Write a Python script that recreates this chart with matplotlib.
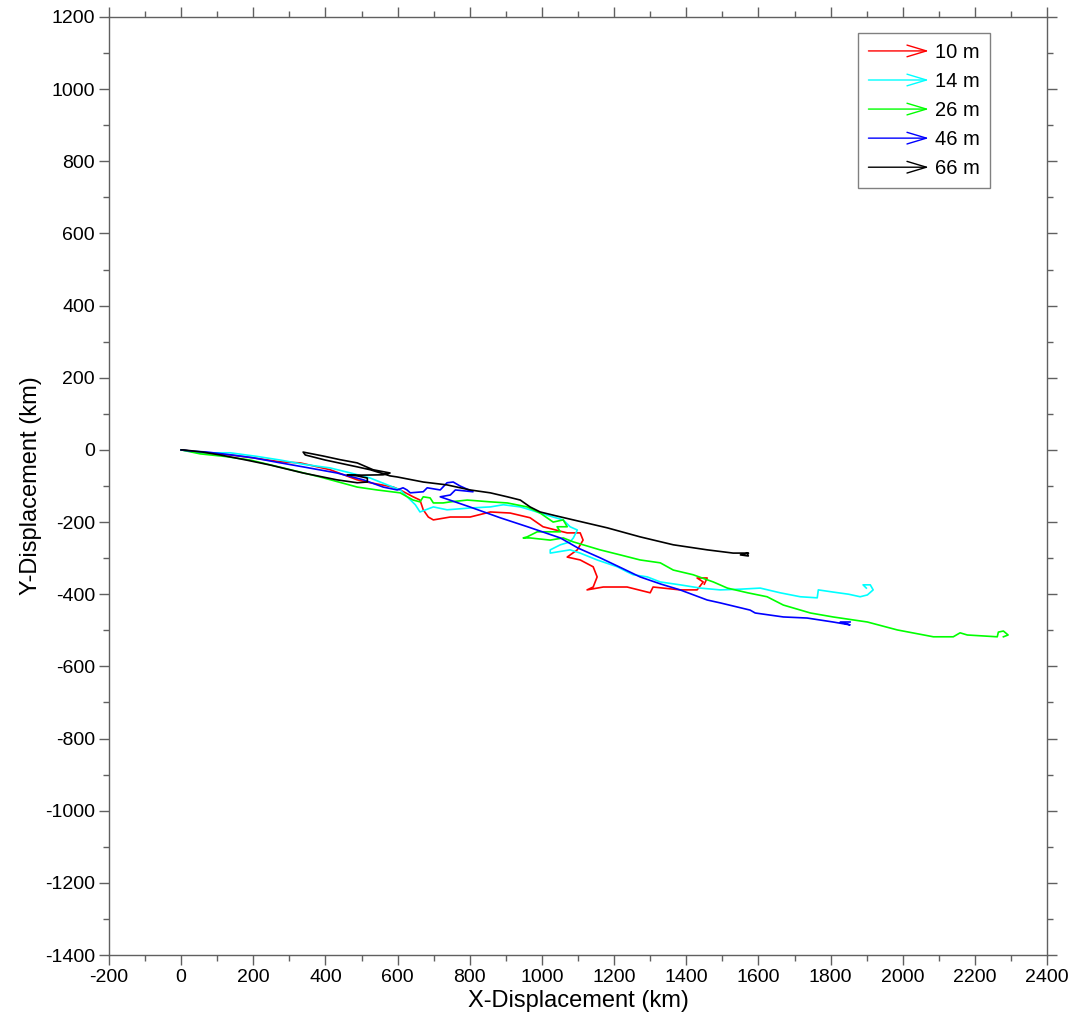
"""
Progressive vector diagram of current-meter records at five depths.
Writes out.png.
"""

import matplotlib.pyplot as plt
from matplotlib.legend_handler import HandlerBase
from matplotlib.lines import Line2D
from matplotlib.patches import FancyArrowPatch
from matplotlib.ticker import MultipleLocator

plt.rcParams["font.family"] = ["Liberation Sans", "DejaVu Sans"]
plt.rcParams["axes.unicode_minus"] = False

# --- Cumulative displacement tracks (km) -----------------------------------
DEPTHS = ["10 m", "14 m", "26 m", "46 m", "66 m"]
COLORS = ["#ff0000", "#00ffff", "#00ff00", "#0000ff", "#000000"]

X_10 = [0, 60, 136, 200, 274, 330, 413, 488, 524, 588, 607, 643, 662, 671,
        685, 699, 746, 801, 857, 912, 967, 1003, 1050, 1070, 1106, 1114,
        1098, 1070, 1106, 1142, 1153, 1142, 1125, 1170, 1236, 1300, 1308,
        1383, 1430, 1447, 1430, 1458, 1450]
Y_10 = [0, -8, -14, -22, -33, -36, -55, -83, -91, -103, -111, -130, -139,
        -166, -186, -194, -186, -186, -172, -175, -188, -213, -225, -230,
        -230, -250, -277, -297, -305, -324, -352, -380, -388, -380, -380,
        -396, -380, -388, -388, -366, -355, -355, -372]

X_14 = [0, 53, 136, 210, 274, 340, 413, 470, 524, 607, 649, 662, 699, 737,
        801, 857, 893, 940, 967, 995, 1031, 1059, 1078, 1098, 1087, 1078,
        1051, 1023, 1023, 1078, 1106, 1153, 1209, 1236, 1253, 1292, 1328,
        1383, 1439, 1494, 1550, 1605, 1660, 1716, 1763, 1766, 1807, 1850,
        1882, 1902, 1918, 1910, 1890, 1899]
Y_14 = [0, -8, -8, -18, -28, -40, -50, -64, -78, -111, -152, -172, -158,
        -166, -161, -158, -152, -158, -166, -175, -186, -194, -213, -222,
        -244, -255, -263, -277, -286, -277, -286, -305, -324, -338, -346,
        -352, -366, -374, -383, -388, -386, -383, -396, -407, -410, -388,
        -394, -400, -407, -402, -388, -374, -374, -383]

X_26 = [0, 53, 120, 191, 283, 385, 488, 543, 607, 643, 662, 671, 690, 699,
        726, 746, 793, 857, 904, 959, 995, 1031, 1059, 1070, 1042, 1051,
        1015, 987, 959, 948, 967, 1023, 1059, 1087, 1114, 1161, 1217, 1272,
        1328, 1364, 1419, 1458, 1475, 1514, 1570, 1624, 1669, 1744, 1807,
        1902, 1985, 2085, 2140, 2159, 2179, 2262, 2265, 2279, 2292, 2279]
Y_26 = [0, -11, -18, -28, -50, -75, -103, -111, -119, -139, -144, -130,
        -133, -147, -147, -144, -139, -144, -147, -158, -175, -200, -194,
        -213, -213, -227, -227, -227, -241, -244, -244, -250, -244, -255,
        -263, -277, -291, -305, -313, -333, -346, -360, -366, -383, -396,
        -407, -430, -452, -463, -477, -499, -518, -518, -507, -513, -518,
        -505, -502, -513, -518]

X_46 = [0, 25, 72, 140, 200, 270, 338, 432, 505, 560, 599, 615, 626, 635,
        671, 682, 718, 737, 754, 773, 809, 760, 746, 718, 800, 884, 960,
        1051, 1100, 1161, 1220, 1272, 1330, 1383, 1458, 1494, 1577, 1591,
        1669, 1735, 1807, 1854, 1827, 1854]
Y_46 = [0, -3, -6, -14, -22, -35, -47, -64, -83, -103, -111, -105, -111,
        -119, -116, -105, -111, -91, -89, -100, -116, -111, -125, -130,
        -158, -188, -213, -244, -272, -299, -327, -352, -372, -388, -416,
        -424, -444, -452, -463, -466, -477, -485, -477, -477]

X_66 = [0, 6, 60, 108, 180, 247, 338, 432, 488, 516, 516, 488, 460, 500,
        560, 579, 532, 488, 440, 394, 338, 344, 399, 488, 524, 579, 599,
        671, 737, 801, 857, 904, 940, 967, 995, 1040, 1087, 1181, 1272,
        1364, 1458, 1530, 1569, 1572, 1550, 1572]
Y_66 = [0, 0, -6, -14, -28, -42, -64, -83, -91, -89, -78, -72, -69, -70,
        -69, -64, -55, -36, -27, -17, -6, -14, -28, -47, -55, -72, -75, -89,
        -97, -111, -119, -130, -139, -158, -172, -183, -194, -216, -241,
        -263, -277, -286, -286, -294, -291, -286]

TRACKS = [(X_10, Y_10), (X_14, Y_14), (X_26, Y_26), (X_46, Y_46), (X_66, Y_66)]

AXIS_GREY = "#606060"


class ArrowHandler(HandlerBase):
    """Legend key drawn as a line ending in an open arrowhead."""

    def create_artists(self, legend, orig_handle, xdescent, ydescent,
                       width, height, fontsize, trans):
        y = height / 2 - ydescent
        arrow = FancyArrowPatch(
            (-xdescent, y), (-xdescent + width, y),
            arrowstyle="->,head_length=1.0,head_width=0.3",
            mutation_scale=14, color=orig_handle.get_color(), lw=1.0,
            shrinkA=0, shrinkB=0, transform=trans,
        )
        return [arrow]


fig = plt.figure(figsize=(10.76, 10.28), dpi=100)
ax = fig.add_axes([0.1013, 0.0710, 0.8718, 0.9125])

handles = []
for (xs, ys), color, label in zip(TRACKS, COLORS, DEPTHS):
    line, = ax.plot(xs, ys, color=color, lw=1.2, label=label)
    handles.append(line)

ax.set_xlim(-200, 2400)
ax.set_ylim(-1400, 1200)
ax.xaxis.set_major_locator(MultipleLocator(200))
ax.xaxis.set_minor_locator(MultipleLocator(100))
ax.yaxis.set_major_locator(MultipleLocator(200))
ax.yaxis.set_minor_locator(MultipleLocator(100))

ax.tick_params(which="both", direction="out", top=True, right=True,
               color=AXIS_GREY, width=1.0, labelsize=14, pad=3)
ax.tick_params(which="major", length=7)
ax.tick_params(which="minor", length=4)
for spine in ax.spines.values():
    spine.set_color(AXIS_GREY)
    spine.set_linewidth(1.0)

ax.set_xlabel("X-Displacement (km)", fontsize=17, labelpad=3)
ax.set_ylabel("Y-Displacement (km)", fontsize=17, labelpad=2)

leg = ax.legend(handles=handles, handler_map={Line2D: ArrowHandler()},
                loc="upper right", bbox_to_anchor=(0.939, 0.983),
                fontsize=14.5, frameon=True, fancybox=False,
                handlelength=3.0, handletextpad=0.3, labelspacing=0.5,
                borderpad=0.5, borderaxespad=0)
leg.get_frame().set_edgecolor(AXIS_GREY)
leg.get_frame().set_linewidth(1.0)

fig.savefig("out.png", dpi=100)
